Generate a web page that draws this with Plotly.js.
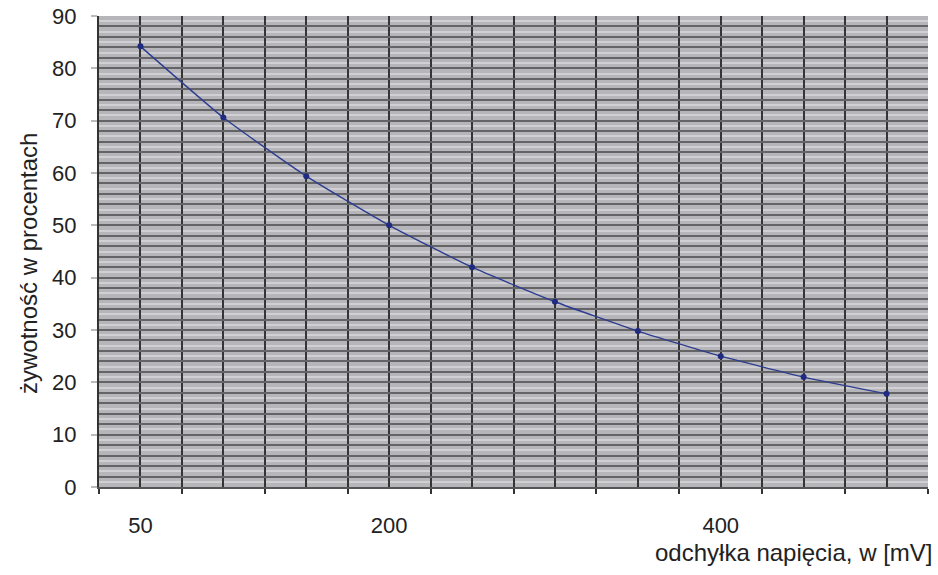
<!DOCTYPE html>
<html>
<head>
<meta charset="utf-8">
<script src="https://cdn.plot.ly/plotly-3.0.1.min.js"></script>
<style>
  body { margin: 0; background: #fff; }
  #chart { width: 938px; height: 575px; }
</style>
</head>
<body>
<div id="chart"></div>
<script>
// napięcie [mV] i żywotność [%]
var voltage = [50, 100, 150, 200, 250, 300, 350, 400, 450, 500];
var lifetime = [84.2, 70.6, 59.4, 50.0, 42.0, 35.4, 29.8, 25.0, 21.0, 17.8];
var xLabels = [50, 200, 400];
var yLabels = [0, 10, 20, 30, 40, 50, 60, 70, 80, 90];

// category width; tick marks sit between the points (Excel style)
var step = voltage[1] - voltage[0];
var half = step / 2;
var xRange = [voltage[0] - half, voltage[voltage.length - 1] + half];
var yRange = [0, 90];

var tickFont = { family: 'Liberation Sans, Arial, sans-serif', size: 22, color: '#222' };
var titleFont = { family: 'Liberation Sans, Arial, sans-serif', size: 24, color: '#222' };

var data = [{
  type: 'scatter',
  mode: 'lines+markers',
  x: voltage,
  y: lifetime,
  xaxis: 'x',
  yaxis: 'y',
  line: { color: '#2e3d8f', width: 1.4, shape: 'spline', smoothing: 0.5 },
  marker: { color: '#1f2a80', size: 6 },
  hoverinfo: 'x+y'
}, {
  type: 'scatter',
  mode: 'none',
  x: voltage,
  y: lifetime,
  xaxis: 'x2',
  yaxis: 'y2',
  hoverinfo: 'skip',
  showlegend: false
}];

var layout = {
  width: 938,
  height: 575,
  margin: { l: 99, r: 10, t: 16, b: 88 },
  paper_bgcolor: '#ffffff',
  plot_bgcolor: '#b6b6ba',
  showlegend: false,
  font: tickFont,
  xaxis: {
    range: xRange,
    tickvals: xLabels,
    ticks: '',
    showgrid: false,
    zeroline: false,
    showline: true,
    linecolor: '#555',
    linewidth: 2,
    ticklabelstandoff: 18,
    tickfont: tickFont,
    minor: { tick0: xRange[0], dtick: step, ticks: 'outside', ticklen: 5, tickcolor: '#333', tickwidth: 2, showgrid: false }
  },
  yaxis: {
    range: yRange,
    tickvals: yLabels,
    ticks: 'outside',
    ticklen: 6,
    tickcolor: '#bbb',
    tickwidth: 2,
    showgrid: false,
    zeroline: false,
    showline: true,
    linecolor: '#333',
    linewidth: 2,
    ticklabelstandoff: 10,
    tickfont: tickFont,
    minor: { tick0: 1, dtick: 2, showgrid: true, gridcolor: '#d0d0d4', gridwidth: 2 }
  },
  xaxis2: {
    overlaying: 'x',
    anchor: 'y2',
    range: xRange,
    tick0: xRange[0],
    dtick: half,
    ticks: '',
    showticklabels: false,
    showgrid: true,
    gridcolor: '#353535',
    gridwidth: 2,
    zeroline: false
  },
  yaxis2: {
    overlaying: 'y',
    anchor: 'x2',
    range: yRange,
    tick0: 0,
    dtick: 2,
    ticks: '',
    showticklabels: false,
    showgrid: true,
    gridcolor: '#646466',
    gridwidth: 2,
    zeroline: false
  },
  annotations: [{
    text: 'żywotność w procentach',
    xref: 'paper', yref: 'paper',
    x: 0, y: 0.5,
    xshift: -86, yshift: -12,
    textangle: -90,
    showarrow: false,
    font: titleFont
  }, {
    text: 'odchyłka napięcia, w [mV]',
    xref: 'paper', yref: 'paper',
    x: 1, y: 0,
    xanchor: 'right', yanchor: 'middle',
    xshift: 6, yshift: -65,
    showarrow: false,
    font: titleFont
  }]
};

Plotly.newPlot('chart', data, layout, { displayModeBar: false, staticPlot: true });
</script>
</body>
</html>
